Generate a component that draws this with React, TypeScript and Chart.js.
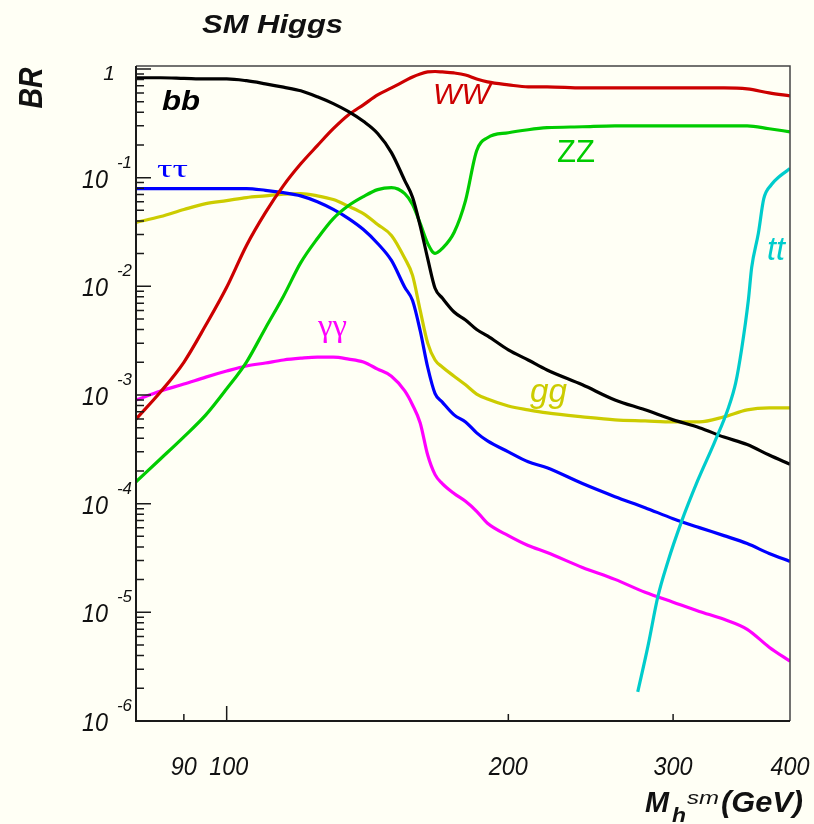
import React, { useEffect, useRef } from 'react';
import { Chart, registerables } from 'chart.js';

Chart.register(...registerables);

// Higgs mass grid (GeV)
const masses = [80, 85, 90, 95, 100, 105, 110, 115, 120, 125, 130, 135, 140, 145, 150, 155, 158, 161, 164, 167, 170, 175, 180, 185, 190, 200, 210, 220, 240, 260, 280, 300, 320, 340, 360, 380, 400];

const bbBR = [0.83, 0.83, 0.82, 0.81, 0.81, 0.78, 0.73, 0.68, 0.63, 0.555, 0.48, 0.405, 0.33, 0.255, 0.17, 0.094, 0.066, 0.036, 0.018, 0.0096, 0.0078, 0.0058, 0.0049, 0.0040, 0.0035, 0.0026, 0.0021, 0.0017, 0.00124, 0.0009, 0.00073, 0.00059, 0.0005, 0.00041, 0.00035, 0.00028, 0.00023];

const wwBR = [0.0006, 0.00107, 0.0020, 0.0044, 0.0098, 0.0238, 0.0477, 0.0845, 0.134, 0.197, 0.282, 0.379, 0.468, 0.577, 0.669, 0.776, 0.845, 0.90, 0.939, 0.948, 0.939, 0.919, 0.881, 0.81, 0.76, 0.714, 0.684, 0.684, 0.669, 0.669, 0.669, 0.669, 0.669, 0.669, 0.655, 0.603, 0.565];

const zzBR = [0.000159, 0.000259, 0.000412, 0.000656, 0.00114, 0.00201, 0.00412, 0.0081, 0.0165, 0.0275, 0.042, 0.0554, 0.067, 0.0776, 0.081, 0.0713, 0.0565, 0.0379, 0.0248, 0.0201, 0.0223, 0.0313, 0.0615, 0.177, 0.233, 0.259, 0.276, 0.288, 0.294, 0.30, 0.30, 0.30, 0.30, 0.30, 0.30, 0.282, 0.264];

const tautauBR = [0.0793, 0.0793, 0.0793, 0.0793, 0.0793, 0.0793, 0.0765, 0.0728, 0.068, 0.060, 0.051, 0.042, 0.0333, 0.0248, 0.0173, 0.0098, 0.0074, 0.0039, 0.0018, 0.00103, 0.00086, 0.000656, 0.000565, 0.000448, 0.000378, 0.0003, 0.000243, 0.000214, 0.000153, 0.000116, 0.0000919, 0.0000728, 0.0000602, 0.0000508, 0.0000429, 0.0000348, 0.0000294];

const ggBR = [0.0387, 0.0439, 0.0509, 0.0577, 0.0615, 0.0656, 0.068, 0.0705, 0.0713, 0.068, 0.0628, 0.0545, 0.0467, 0.0371, 0.0294, 0.0181, 0.0126, 0.006, 0.003, 0.0021, 0.00181, 0.00149, 0.00124, 0.00102, 0.000919, 0.000793, 0.00073, 0.000684, 0.000629, 0.00059, 0.000577, 0.000565, 0.000565, 0.000629, 0.00073, 0.00076, 0.00076];

const gammagammaBR = [0.0009, 0.00109, 0.00126, 0.00146, 0.00166, 0.00185, 0.00197, 0.0021, 0.00218, 0.00223, 0.00223, 0.00214, 0.00201, 0.00173, 0.00149, 0.00109, 0.00081, 0.000553, 0.00028, 0.000185, 0.000153, 0.000124, 0.000105, 0.000085, 0.000066, 0.0000508, 0.0000412, 0.0000355, 0.0000259, 0.0000201, 0.0000153, 0.0000124, 0.0000102, 0.00000863, 0.00000698, 0.00000478, 0.00000355];

const ttMasses = [275, 282, 289, 296, 306, 319, 332, 344, 350, 355, 361, 364, 370, 375, 382, 390, 400];
const ttBR = [1.85e-6, 4.88e-6, 1.40e-5, 2.88e-5, 6.69e-5, 1.66e-4, 3.63e-4, 7.76e-4, 0.0013, 0.0026, 0.0074, 0.0149, 0.0306, 0.064, 0.086, 0.103, 0.121];

const yDecades = [0, -1, -2, -3, -4, -5, -6];
const xTickValues = [90, 100, 200, 300, 400];
const xTickLabels = ['90', '100', '200', '300', '400'];

const SANS = '"Liberation Sans", Arial, sans-serif';
const SERIF = '"Liberation Serif", "DejaVu Serif", serif';

function drawText(
  ctx: CanvasRenderingContext2D,
  str: string,
  x: number,
  y: number,
  font: string,
  color: string,
  align: CanvasTextAlign = 'left',
  w?: number,
) {
  ctx.save();
  ctx.font = font;
  ctx.fillStyle = color;
  ctx.textAlign = align;
  ctx.textBaseline = 'alphabetic';
  const m = ctx.measureText(str).width;
  const sx = w ? w / m : 1;
  ctx.translate(x, y);
  ctx.scale(sx, 1);
  ctx.fillText(str, 0, 0);
  ctx.restore();
}

const framePlugin = {
  id: 'framePlugin',
  afterDraw(chart: any) {
    const ctx: CanvasRenderingContext2D = chart.ctx;
    const { left, right, top, bottom } = chart.chartArea;
    const xs = chart.scales.x;
    const ys = chart.scales.y;

    ctx.save();
    // top & right border
    ctx.strokeStyle = '#444';
    ctx.lineWidth = 1.5;
    ctx.beginPath();
    ctx.moveTo(left, top);
    ctx.lineTo(right, top);
    ctx.lineTo(right, bottom);
    ctx.stroke();
    // left & bottom axes
    ctx.strokeStyle = '#1a1a1a';
    ctx.lineWidth = 2;
    ctx.beginPath();
    ctx.moveTo(left, top);
    ctx.lineTo(left, bottom);
    ctx.lineTo(right, bottom);
    ctx.stroke();

    // y ticks
    ctx.lineWidth = 1.5;
    ctx.beginPath();
    for (const d of yDecades) {
      const yp = ys.getPixelForValue(Math.pow(10, d));
      ctx.moveTo(left, yp);
      ctx.lineTo(left + 15, yp);
      if (d < 0) {
        for (let k = 2; k <= 9; k++) {
          const yv = ys.getPixelForValue(k * Math.pow(10, d));
          ctx.moveTo(left, yv);
          ctx.lineTo(left + 8, yv);
        }
      }
    }
    // x ticks
    for (const v of xTickValues) {
      if (v >= 400) continue;
      const xp = xs.getPixelForValue(v);
      const len = v === 100 ? 15 : 7;
      ctx.moveTo(xp, bottom);
      ctx.lineTo(xp, bottom - len);
    }
    ctx.stroke();
    ctx.restore();

    // y tick labels
    for (const d of yDecades) {
      const yp = ys.getPixelForValue(Math.pow(10, d));
      if (d === 0) {
        drawText(ctx, '1', 115, yp + 11, `italic 21px ${SANS}`, '#111', 'right');
      } else {
        drawText(ctx, '10', 108, yp + 10, `italic 26px ${SANS}`, '#111', 'right', 26);
        drawText(ctx, `-${-d}`, 117, yp - 10, `italic 17px ${SANS}`, '#111', 'left', 15);
      }
    }
    // x tick labels
    xTickValues.forEach((v, i) => {
      const xp = xs.getPixelForValue(v);
      const lab = xTickLabels[i];
      drawText(ctx, lab, xp + (v === 100 ? 2 : 0), 775, `italic 25px ${SANS}`, '#111', 'center', 13 * lab.length);
    });

    // title
    drawText(ctx, 'SM Higgs', 202, 33, `italic bold 26px ${SANS}`, '#111', 'left', 141);

    // y axis title (rotated)
    ctx.save();
    ctx.translate(42, 88);
    ctx.rotate(-Math.PI / 2);
    drawText(ctx, 'BR', 0, 0, `italic bold 33px ${SANS}`, '#111', 'center', 41);
    ctx.restore();

    // x axis title
    drawText(ctx, 'M', 645, 812, `italic bold 30px ${SANS}`, '#111', 'left', 24);
    drawText(ctx, 'h', 672, 822, `italic bold 21px ${SANS}`, '#111', 'left', 14);
    drawText(ctx, 'sm', 687, 804, `italic 19px ${SANS}`, '#111', 'left', 32);
    drawText(ctx, '(GeV)', 721, 812, `italic bold 30px ${SANS}`, '#111', 'left', 82);

    // curve labels
    drawText(ctx, 'bb', 162, 110, `italic bold 28px ${SANS}`, '#000', 'left', 38);
    drawText(ctx, 'ττ', 157, 177, `26px ${SERIF}`, '#0000FF', 'left', 31);
    drawText(ctx, 'WW', 433, 104, `italic 30px ${SANS}`, '#CC0000', 'left', 57);
    drawText(ctx, 'ZZ', 557, 162, `32px ${SANS}`, '#00CC00', 'left', 38);
    drawText(ctx, 'γγ', 318, 336, `31px ${SERIF}`, '#FF00FF', 'left', 29);
    drawText(ctx, 'gg', 530, 402, `italic 33px ${SANS}`, '#CCCC00', 'left', 37);
    drawText(ctx, 'tt', 767, 260, `italic 33px ${SANS}`, '#00CCCC', 'left', 18);
  },
};

function series(label: string, xsArr: number[], ysArr: number[], color: string) {
  return {
    label,
    data: xsArr.map((m, i) => ({ x: m, y: ysArr[i] })),
    borderColor: color,
    backgroundColor: color,
    borderWidth: 3.2,
    pointRadius: 0,
    fill: false,
    cubicInterpolationMode: 'monotone' as const,
  };
}

export default function App() {
  const canvasRef = useRef<HTMLCanvasElement | null>(null);

  useEffect(() => {
    const canvas = canvasRef.current;
    if (!canvas) return;
    const chart = new Chart(canvas, {
      type: 'line',
      data: {
        datasets: [
          series('tt', ttMasses, ttBR, '#00CCCC'),
          series('bb', masses, bbBR, '#000000'),
          series('WW', masses, wwBR, '#CC0000'),
          series('ZZ', masses, zzBR, '#00CC00'),
          series('ττ', masses, tautauBR, '#0000FF'),
          series('gg', masses, ggBR, '#CCCC00'),
          series('γγ', masses, gammagammaBR, '#FF00FF'),
        ] as any,
      },
      options: {
        responsive: false,
        devicePixelRatio: 1,
        animation: false,
        layout: { padding: { left: 136, right: 24, top: 66, bottom: 103 } },
        scales: {
          x: { type: 'logarithmic', min: 80, max: 400, display: false },
          y: { type: 'logarithmic', min: 1e-6, max: 1.065, display: false },
        },
        plugins: {
          legend: { display: false },
          tooltip: { enabled: false },
          title: { display: false },
        },
      },
      plugins: [framePlugin],
    });
    return () => chart.destroy();
  }, []);

  return (
    <div
      style={{
        position: 'fixed',
        left: 0,
        top: 0,
        width: 814,
        height: 824,
        background: '#FFFFF5',
      }}
    >
      <canvas ref={canvasRef} width={814} height={824} style={{ display: 'block', width: 814, height: 824 }} />
    </div>
  );
}
